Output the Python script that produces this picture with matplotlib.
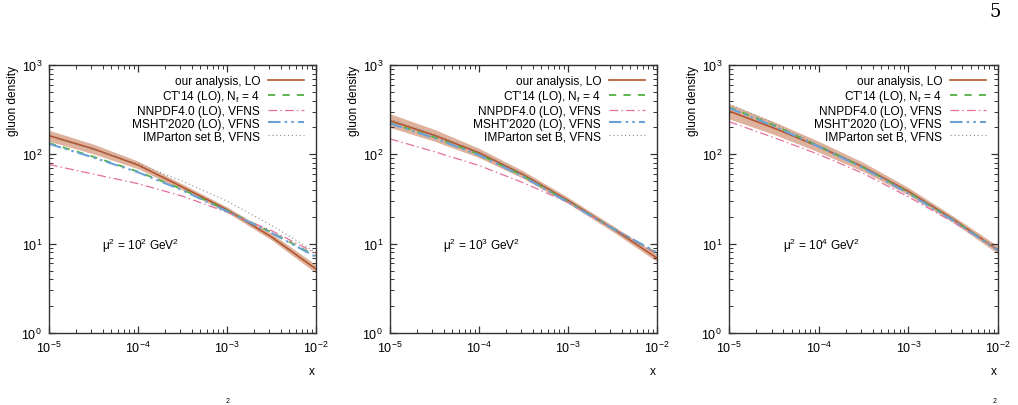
import numpy as np
import matplotlib
matplotlib.use("Agg")
import matplotlib.pyplot as plt
from matplotlib.ticker import LogLocator, FuncFormatter, NullFormatter

plt.rcParams['font.family'] = ['Liberation Sans', 'DejaVu Sans']
plt.rcParams['mathtext.fontset'] = 'custom'
plt.rcParams['mathtext.rm'] = 'Liberation Sans'
plt.rcParams['mathtext.it'] = 'Liberation Sans:italic'

# x grid of the read-off points
x = [1e-5, 10**-4.5, 1e-4, 10**-3.5, 1e-3, 10**-2.5, 1e-2]

scales = ['10$^2$', '10$^3$', '10$^4$']

# mu^2 = 10^2
ours_1 = [162, 115, 76, 43, 24, 11.9, 5.2]
ours_lo_1 = [140, 101, 69, 39.8, 22.4, 11.0, 4.7]
ours_hi_1 = [186, 130, 84, 46.5, 25.8, 13.0, 5.8]
ct14_1 = [134, 94, 64, 40.5, 23.5, 13.4, 7.3]
nnpdf_1 = [77, 60, 47, 34, 22.5, 14, 7.8]
msht_1 = [131, 92, 63, 39.5, 23, 13.2, 7.1]
imp_1 = [158, 113, 79, 50, 30, 16, 8.0]

# mu^2 = 10^3
ours_2 = [238, 163, 104, 59, 30.5, 14.8, 6.9]
ours_lo_2 = [200, 140, 92, 53.5, 28.2, 13.7, 6.3]
ours_hi_2 = [285, 190, 117, 65, 33, 16, 7.6]
ct14_2 = [225, 155, 100, 57, 29.5, 15, 7.8]
nnpdf_2 = [149, 107, 75, 48, 29, 15, 7.7]
msht_2 = [222, 152, 98, 56, 29, 14.8, 8.0]
imp_2 = [248, 168, 107, 60, 30.5, 15, 7.6]

# mu^2 = 10^4
ours_3 = [305, 197, 122, 72, 38.5, 18.8, 8.5]
ours_lo_3 = [250, 167, 106, 64, 35, 17.3, 7.7]
ours_hi_3 = [370, 232, 140, 81, 42.5, 20.4, 9.4]
ct14_3 = [337, 212, 124, 71, 37.5, 18.5, 8.5]
nnpdf_3 = [232, 154, 100, 61, 33.5, 17.4, 8.6]
msht_3 = [330, 207, 122, 70, 36.5, 18.2, 8.4]
imp_3 = [365, 222, 127, 73, 37.5, 18.6, 8.4]

panels = [
    (ours_1, ours_lo_1, ours_hi_1, ct14_1, nnpdf_1, msht_1, imp_1),
    (ours_2, ours_lo_2, ours_hi_2, ct14_2, nnpdf_2, msht_2, imp_2),
    (ours_3, ours_lo_3, ours_hi_3, ct14_3, nnpdf_3, msht_3, imp_3),
]

fig = plt.figure(figsize=(10.18, 4.06), dpi=100)
lefts = [49, 390, 729]
widths = [267, 267, 269]

def sci(v, pos):
    return '10$^{%d}$' % int(round(np.log10(v)))

for i, (ours, lo, hi, ct, nn, ms, im) in enumerate(panels):
    ax = fig.add_axes([lefts[i] / 1018, 72 / 406, widths[i] / 1018, 268 / 406])
    ax.fill_between(x, lo, hi, color='#deb29c', lw=0)
    ax.plot(x, ours, color='#b35530', lw=1.2, label='our analysis, LO')
    ax.plot(x, ct, color='#55b043', lw=1.3, ls=(0, (4, 4)), label="CT'14 (LO), N$_{\\rm f}$ = 4")
    ax.plot(x, nn, color='#e5709a', lw=0.9, ls=(0, (7, 2.5, 1.2, 2.5)), label='NNPDF4.0 (LO), VFNS')
    ax.plot(x, ms, color='#6aa2d8', lw=1.5, ls=(0, (6, 2, 1.2, 2, 1.2, 2)), label="MSHT'2020 (LO), VFNS")
    ax.plot(x, im, color='#8c8c8c', lw=0.8, ls=(0, (1, 2.5)), label='IMParton set B, VFNS')

    ax.set_xscale('log')
    ax.set_yscale('log')
    ax.set_xlim(1e-5, 1e-2)
    ax.set_ylim(1, 1e3)
    ax.xaxis.set_major_locator(LogLocator(base=10, numticks=10))
    ax.yaxis.set_major_locator(LogLocator(base=10, numticks=10))
    ax.xaxis.set_minor_locator(LogLocator(base=10, subs=np.arange(2, 10), numticks=20))
    ax.yaxis.set_minor_locator(LogLocator(base=10, subs=np.arange(2, 10), numticks=20))
    ax.xaxis.set_major_formatter(FuncFormatter(sci))
    ax.yaxis.set_major_formatter(FuncFormatter(sci))
    ax.xaxis.set_minor_formatter(NullFormatter())
    ax.yaxis.set_minor_formatter(NullFormatter())
    ax.tick_params(which='both', direction='in', top=True, right=True, labelsize=9, color='#333333')
    ax.tick_params(which='major', length=5, width=0.9, pad=5)
    ax.tick_params(which='minor', length=3, width=0.7)
    for s in ax.spines.values():
        s.set_linewidth(1.0)
        s.set_color('#333333')

    ax.text(-0.135, 1.0, 'gluon density', transform=ax.transAxes, rotation=90,
            ha='center', va='top', fontsize=8.6)
    ax.text(0.985, -0.12, 'x', transform=ax.transAxes, ha='center', va='top', fontsize=8.6)
    ax.text(0.2, 0.33, 'μ$^2$ = ' + scales[i] + ' GeV$^2$', transform=ax.transAxes,
            ha='left', va='center', fontsize=8.6)

    ax.legend(loc='upper right', bbox_to_anchor=(0.965, 0.97), frameon=False,
              markerfirst=False, fontsize=8.6, handlelength=3.0, handletextpad=0.7,
              labelspacing=0.06, borderaxespad=0, borderpad=0.2)

# page number and cut-off text from the page
fig.text(995 / 1018, 1 - 12 / 406, '5', family='DejaVu Serif', fontsize=13, ha='center', va='center')
fig.text(228 / 1018, 0.5 / 406, '2', fontsize=5, ha='center', va='bottom')
fig.text(995 / 1018, 0.5 / 406, '2', fontsize=5, ha='center', va='bottom')

fig.savefig('out.png', dpi=100)
